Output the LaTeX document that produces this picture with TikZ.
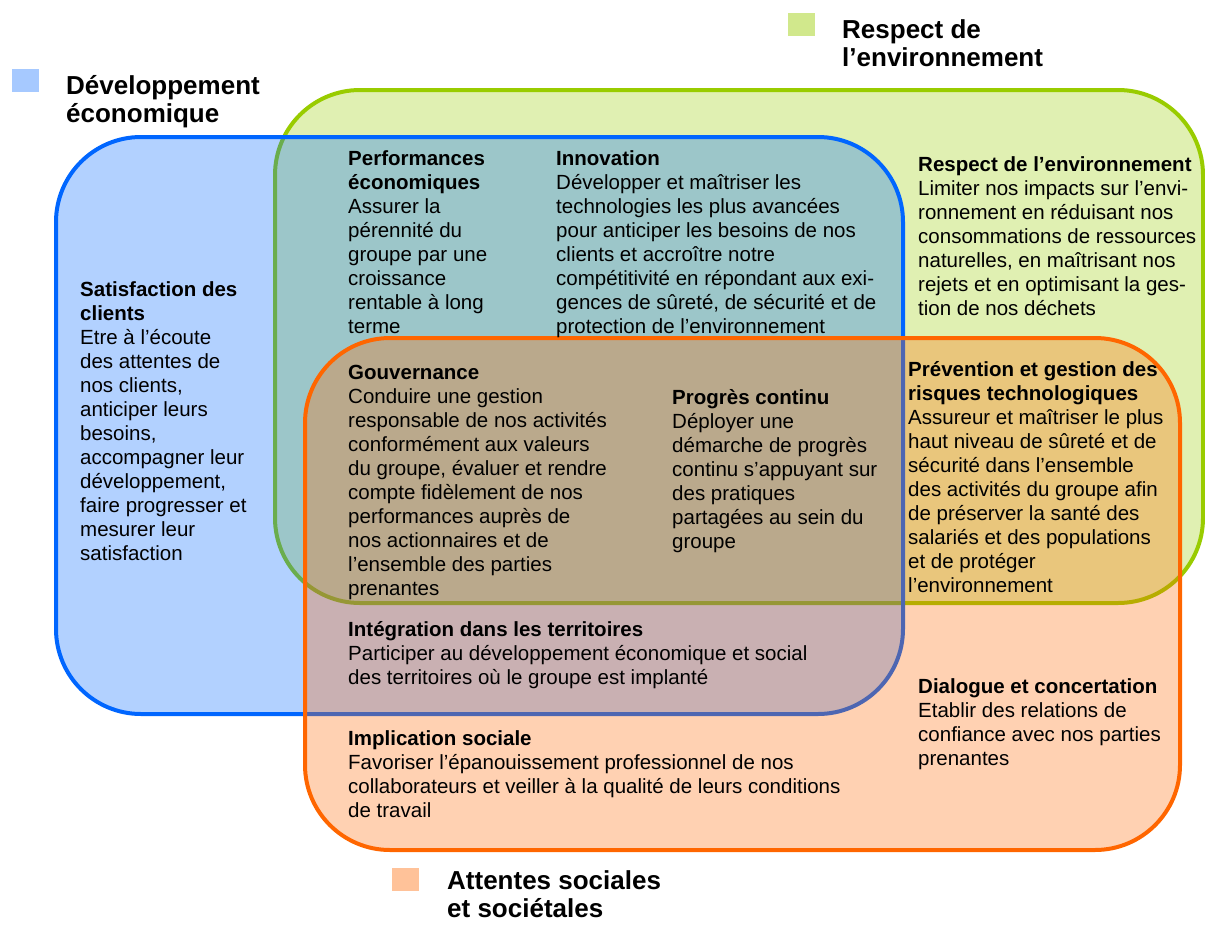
\documentclass[tikz,border=0pt]{standalone}
\usepackage{fontspec}
\setmainfont{Liberation Sans}
\usepackage{tikz}
\usetikzlibrary{positioning}

\definecolor{ecoblue}{RGB}{0,102,255}
\definecolor{envgreen}{RGB}{153,204,0}
\definecolor{socorange}{RGB}{255,102,0}

\begin{document}
\begin{tikzpicture}[x=1pt, y=-1pt,
  zone/.style={line width=4pt, rounded corners=85pt, fill opacity=0.3},
  % base west = baseline of the last line
  txt/.style={anchor=base west, inner sep=0pt, align=left,
    font=\fontsize{20.5}{24}\selectfont},
  ttl/.style={anchor=base west, inner sep=0pt, align=left,
    font=\fontsize{26}{28}\selectfont\bfseries},
  swatch/.style={anchor=north west, inner sep=0pt,
    minimum width=27pt, minimum height=23pt},
]
\useasboundingbox (0,0) rectangle (1205,924);

% Zones
\draw[zone, draw=envgreen, fill=envgreen] (275,90) rectangle (1203,603);
\draw[zone, draw=ecoblue, fill=ecoblue] (56,137) rectangle (903,714);
\draw[zone, draw=socorange, fill=socorange] (305,338) rectangle (1180,850);

% Legend
\node[swatch, fill=ecoblue!35] (keyeco) at (12,69) {};
\node[ttl] (ttleco) at (66,122) {Développement\\économique};
\node[swatch, fill=envgreen!45] (keyenv) at (788,13) {};
\node[ttl] (ttlenv) at (842,66) {Respect de\\l’environnement};
\node[swatch, fill=socorange!40] (keysoc) at (392,868) {};
\node[ttl] (ttlsoc) at (447,917) {Attentes sociales\\et sociétales};

% Economic only
\node[txt] (clients) at (80,560) {\textbf{Satisfaction des}\\\textbf{clients}\\Etre à l’écoute\\des attentes de\\nos clients,\\anticiper leurs\\besoins,\\accompagner leur\\développement,\\faire progresser et\\mesurer leur\\satisfaction};

% Economic + environment
\node[txt] (perf) at (348,333) {\textbf{Performances}\\\textbf{économiques}\\Assurer la\\pérennité du\\groupe par une\\croissance\\rentable à long\\terme};
\node[txt] (innov) at (556,333) {\textbf{Innovation}\\Développer et maîtriser les\\technologies les plus avancées\\pour anticiper les besoins de nos\\clients et accroître notre\\compétitivité en répondant aux exi-\\gences de sûreté, de sécurité et de\\protection de l’environnement};

% Environment only
\node[txt] (env) at (918,315) {\textbf{Respect de l’environnement}\\Limiter nos impacts sur l’envi-\\ronnement en réduisant nos\\consommations de ressources\\naturelles, en maîtrisant nos\\rejets et en optimisant la ges-\\tion de nos déchets};

% All three
\node[txt] (gouv) at (348,595) {\textbf{Gouvernance}\\Conduire une gestion\\responsable de nos activités\\conformément aux valeurs\\du groupe, évaluer et rendre\\compte fidèlement de nos\\performances auprès de\\nos actionnaires et de\\l’ensemble des parties\\prenantes};
\node[txt] (progres) at (672,548) {\textbf{Progrès continu}\\Déployer une\\démarche de progrès\\continu s’appuyant sur\\des pratiques\\partagées au sein du\\groupe};

% Environment + social
\node[txt] (risques) at (908,592) {\textbf{Prévention et gestion des}\\\textbf{risques technologiques}\\Assureur et maîtriser le plus\\haut niveau de sûreté et de\\sécurité dans l’ensemble\\des activités du groupe afin\\de préserver la santé des\\salariés et des populations\\et de protéger\\l’environnement};

% Economic + social
\node[txt] (territ) at (348,684) {\textbf{Intégration dans les territoires}\\Participer au développement économique et social\\des territoires où le groupe est implanté};

% Social only
\node[txt] (dialog) at (918,765) {\textbf{Dialogue et concertation}\\Etablir des relations de\\confiance avec nos parties\\prenantes};
\node[txt] (social) at (348,817) {\textbf{Implication sociale}\\Favoriser l’épanouissement professionnel de nos\\collaborateurs et veiller à la qualité de leurs conditions\\de travail};

\end{tikzpicture}
\end{document}
